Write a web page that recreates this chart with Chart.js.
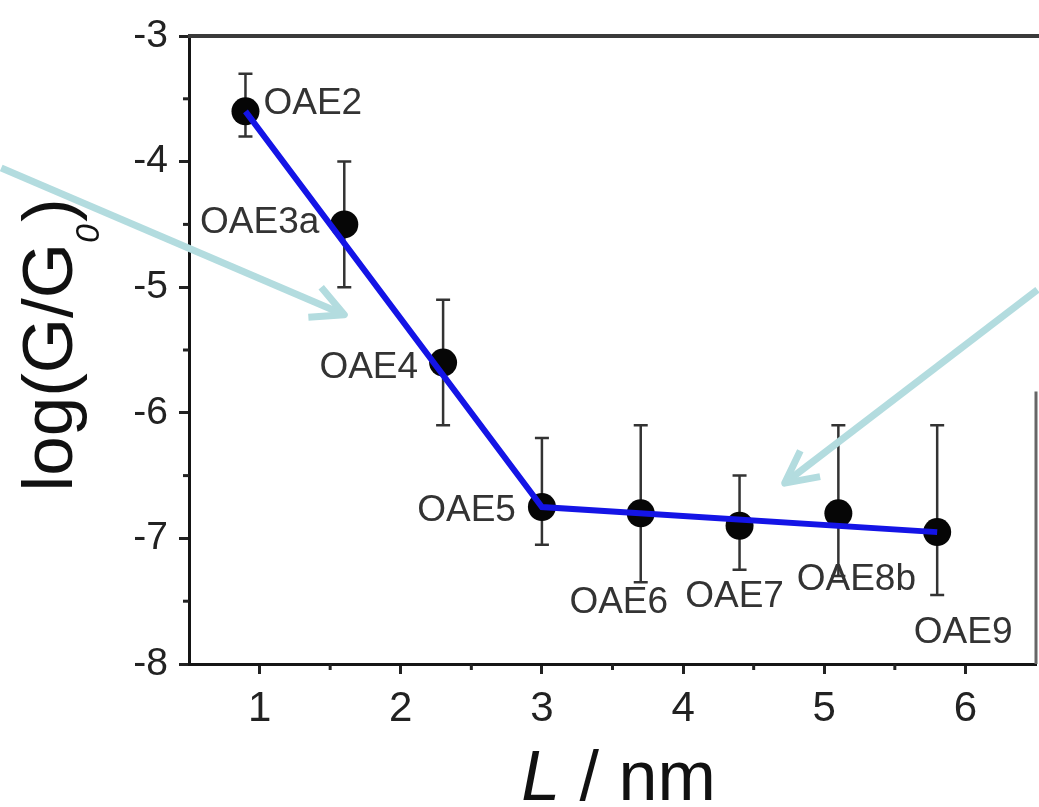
<!DOCTYPE html>
<html>
<head>
<meta charset="utf-8">
<script src="https://cdn.jsdelivr.net/npm/chart.js@4.4.1/dist/chart.umd.min.js"></script>
<style>
  html, body { margin: 0; padding: 0; background: #fff; }
</style>
</head>
<body>
<canvas id="chart" width="1039" height="807"></canvas>
<script>
const molecules = ["OAE2", "OAE3a", "OAE4", "OAE5", "OAE6", "OAE7", "OAE8b", "OAE9"];
const lengthNm = [0.9, 1.6, 2.3, 3.0, 3.7, 4.4, 5.1, 5.8];
const logG = [-3.6, -4.5, -5.6, -6.75, -6.8, -6.9, -6.8, -6.95];
const errTop = [-3.3, -4.0, -5.1, -6.2, -6.1, -6.5, -6.1, -6.1];
const errBottom = [-3.8, -5.0, -6.1, -7.05, -7.35, -7.25, -7.3, -7.45];

// two straight fits: tunnelling regime and the flat part
const fitX = [0.9, 3.0, 5.8];
const fitY = [-3.6, -6.75, -6.95];

const xTicks = [1, 2, 3, 4, 5, 6];
const yTicks = [-3, -4, -5, -6, -7, -8];
const xMinor = [1.5, 2.5, 3.5, 4.5, 5.5];
const yMinor = [-3.5, -4.5, -5.5, -6.5, -7.5];

// the two teal arrows laid over the figure, in axis units: [fromX, fromY, toX, toY]
const arrows = [
  [-0.83, -4.05, 1.6, -5.22],
  [6.51, -5.02, 4.72, -6.56],
];

// where each name sits relative to its point (px)
const labelPos = [
  { dx: 18, dy: -8, align: "left" },
  { dx: -25, dy: -2, align: "right" },
  { dx: -25, dy: 5, align: "right" },
  { dx: -26, dy: 4, align: "right" },
  { dx: -22, dy: 90, align: "center" },
  { dx: -5, dy: 71, align: "center" },
  { dx: 18, dy: 67, align: "center" },
  { dx: 26, dy: 101, align: "center" },
];

const FONT = "'Liberation Sans', Arial, Helvetica, sans-serif";

const decor = {
  id: "decor",
  beforeDatasetsDraw(chart) {
    const { ctx, chartArea: a } = chart;
    const x = chart.scales.x, y = chart.scales.y;
    ctx.save();
    ctx.strokeStyle = "#3a3a3a";
    ctx.lineWidth = 4;
    ctx.beginPath();
    ctx.moveTo(a.left - 1, a.top);
    ctx.lineTo(chart.width, a.top);
    ctx.stroke();
    ctx.lineWidth = 3;
    ctx.strokeStyle = "#666";
    ctx.beginPath();
    ctx.moveTo(a.right, y.getPixelForValue(-5.83));
    ctx.lineTo(a.right, a.bottom);
    ctx.stroke();

    ctx.strokeStyle = "#222";
    ctx.lineWidth = 3;
    xMinor.forEach(v => {
      const px = x.getPixelForValue(v);
      ctx.beginPath();
      ctx.moveTo(px, a.bottom);
      ctx.lineTo(px, a.bottom + 6);
      ctx.stroke();
    });
    yMinor.forEach(v => {
      const py = y.getPixelForValue(v);
      ctx.beginPath();
      ctx.moveTo(a.left, py);
      ctx.lineTo(a.left - 6, py);
      ctx.stroke();
    });

    // error bars
    ctx.strokeStyle = "#333";
    ctx.lineWidth = 2.5;
    lengthNm.forEach((v, i) => {
      const px = x.getPixelForValue(v);
      const t = y.getPixelForValue(errTop[i]);
      const b = y.getPixelForValue(errBottom[i]);
      ctx.beginPath();
      ctx.moveTo(px, t); ctx.lineTo(px, b);
      ctx.moveTo(px - 7, t); ctx.lineTo(px + 7, t);
      ctx.moveTo(px - 7, b); ctx.lineTo(px + 7, b);
      ctx.stroke();
    });
    ctx.restore();
  },
  afterDraw(chart) {
    const { ctx, chartArea: a } = chart;
    const x = chart.scales.x, y = chart.scales.y;
    ctx.save();

    // point names
    ctx.fillStyle = "#333";
    ctx.font = "37px " + FONT;
    ctx.textBaseline = "middle";
    molecules.forEach((name, i) => {
      const p = labelPos[i];
      ctx.textAlign = p.align;
      ctx.fillText(name, x.getPixelForValue(lengthNm[i]) + p.dx, y.getPixelForValue(logG[i]) + p.dy);
    });

    // x title: italic L / nm
    ctx.fillStyle = "#111";
    ctx.textBaseline = "alphabetic";
    ctx.textAlign = "left";
    const big = "70px " + FONT;
    ctx.font = "italic " + big;
    const wL = ctx.measureText("L").width;
    ctx.font = big;
    const wRest = ctx.measureText(" / nm").width;
    let cx = (a.left + a.right) / 2 + 6 - (wL + wRest) / 2;
    ctx.font = "italic " + big;
    ctx.fillText("L", cx, chart.height - 7);
    ctx.font = big;
    ctx.fillText(" / nm", cx + wL, chart.height - 7);

    // y title: log(G/G0) with subscript
    ctx.save();
    ctx.translate(72, (a.top + a.bottom) / 2 - 4);
    ctx.rotate(-Math.PI / 2);
    const yt = "71px " + FONT, sub = "italic 34px " + FONT;
    ctx.font = yt;
    const w1 = ctx.measureText("log(G/G").width;
    const w3 = ctx.measureText(")").width;
    ctx.font = sub;
    const w2 = ctx.measureText("0").width;
    let sx = -(w1 + w2 + w3) / 2;
    ctx.font = yt;
    ctx.fillText("log(G/G", sx, 0);
    ctx.font = sub;
    ctx.fillText("0", sx + w1, 27);
    ctx.font = yt;
    ctx.fillText(")", sx + w1 + w2 + 2, 0);
    ctx.restore();

    // teal arrows
    ctx.strokeStyle = "#b3dcdf";
    ctx.lineWidth = 7;
    ctx.lineJoin = "round";
    arrows.forEach(([x0, y0, x1, y1]) => {
      const ax = x.getPixelForValue(x0), ay = y.getPixelForValue(y0);
      const bx = x.getPixelForValue(x1), by = y.getPixelForValue(y1);
      const ang = Math.atan2(ay - by, ax - bx);
      ctx.beginPath();
      ctx.moveTo(ax, ay);
      ctx.lineTo(bx, by);
      ctx.stroke();
      ctx.beginPath();
      ctx.moveTo(bx + 36 * Math.cos(ang + 0.47), by + 36 * Math.sin(ang + 0.47));
      ctx.lineTo(bx, by);
      ctx.lineTo(bx + 36 * Math.cos(ang - 0.47), by + 36 * Math.sin(ang - 0.47));
      ctx.stroke();
    });
    ctx.restore();
  },
};

new Chart(document.getElementById("chart"), {
  type: "scatter",
  data: {
    datasets: [
      {
        type: "line",
        label: "fit",
        data: fitX.map((v, i) => ({ x: v, y: fitY[i] })),
        borderColor: "#1414e6",
        borderWidth: 6,
        pointRadius: 0,
        tension: 0,
        order: 0,
      },
      {
        label: "log(G/G0)",
        data: lengthNm.map((v, i) => ({ x: v, y: logG[i] })),
        backgroundColor: "#060606",
        borderWidth: 0,
        pointRadius: 14,
        order: 1,
      },
    ],
  },
  options: {
    responsive: false,
    animation: false,
    layout: { autoPadding: false, padding: { top: 36, right: 3, left: 0, bottom: 0 } },
    plugins: { legend: { display: false }, tooltip: { enabled: false } },
    scales: {
      x: {
        type: "linear",
        min: 0.5,
        max: 6.5,
        afterBuildTicks: s => { s.ticks = xTicks.map(v => ({ value: v })); },
        afterFit: s => { s.height = 143; s.paddingLeft = 0; s.paddingRight = 0; },
        ticks: { color: "#222", font: { family: FONT, size: 42 }, padding: 10, callback: v => String(v) },
        grid: { display: true, drawOnChartArea: false, tickLength: 10, tickWidth: 3, tickColor: "#222" },
        border: { display: true, color: "#151515", width: 3 },
      },
      y: {
        type: "linear",
        min: -8,
        max: -3,
        afterBuildTicks: s => { s.ticks = yTicks.map(v => ({ value: v })); },
        afterFit: s => { s.width = 189; s.paddingTop = 0; s.paddingBottom = 0; },
        ticks: { color: "#222", font: { family: FONT, size: 39 }, padding: 11, callback: v => String(v) },
        grid: { display: true, drawOnChartArea: false, tickLength: 10, tickWidth: 3, tickColor: "#222" },
        border: { display: true, color: "#151515", width: 3 },
      },
    },
  },
  plugins: [decor],
});
</script>
</body>
</html>
